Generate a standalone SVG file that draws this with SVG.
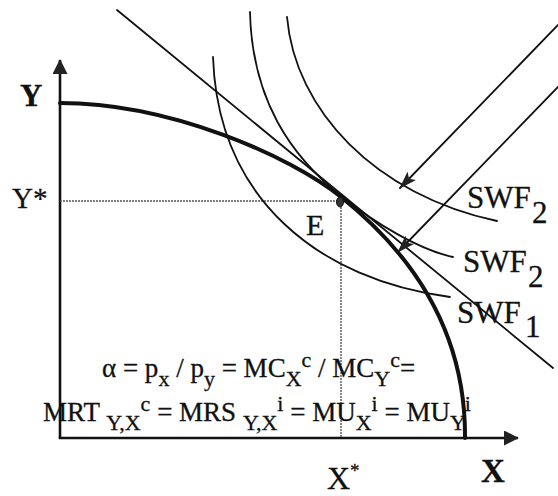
<svg xmlns="http://www.w3.org/2000/svg" width="558" height="496" viewBox="0 0 558 496">
<style>
.ln{fill:none;stroke:#111;stroke-width:1.8;stroke-linecap:round}
.ax{fill:none;stroke:#111;stroke-width:2.6}
.ppf{fill:none;stroke:#111;stroke-width:4;stroke-linecap:round}
.dot{fill:none;stroke:#555;stroke-width:1.4;stroke-dasharray:2 1}
.t{font-family:"Liberation Serif","Times New Roman",serif;fill:#111;stroke:#111;stroke-width:0.3}
.sw{font-size:31px}
.eq{font-size:27px}
.s{font-size:22px}
</style>
<defs>
<marker id="axh" markerUnits="userSpaceOnUse" viewBox="0 0 15 15" refX="14" refY="7.5" markerWidth="15" markerHeight="15" orient="auto">
<path d="M0,0 L15,7.5 L0,15 z" fill="#222"/>
</marker>
<marker id="arh" markerUnits="userSpaceOnUse" viewBox="0 0 18 12" refX="17" refY="6" markerWidth="18" markerHeight="12" orient="auto">
<path d="M0,0 L18,6 L0,12 L4,6 z" fill="#222"/>
</marker>
</defs>

<g id="axes">
<line class="ax" x1="60" y1="438" x2="60" y2="60" marker-end="url(#axh)"/>
<line class="ax" x1="58.7" y1="438" x2="518" y2="438" marker-end="url(#axh)"/>
<text class="t" x="20" y="106" font-size="31" font-weight="bold" font-family="Liberation Serif, serif">Y</text>
<text class="t" x="481" y="482" font-size="33" font-weight="bold" font-family="Liberation Serif, serif">X</text>
</g>

<g id="guides">
<line class="dot" x1="60" y1="201" x2="341" y2="201"/>
<line class="dot" x1="341" y1="201" x2="341" y2="438"/>
<text class="t" x="12" y="208" font-size="29" font-family="Liberation Serif, serif">Y*</text>
<text class="t" x="327" y="489" font-size="32" font-family="Liberation Serif, serif">X<tspan font-size="19" dy="-12">*</tspan></text>
</g>

<g id="ppf">
<path class="ppf" d="M60,103 C170,103 290,156 341,197 C401,245 466,320 465,438"/>
</g>

<g id="budget-line">
<line class="ln" x1="117" y1="10" x2="553" y2="368"/>
</g>

<g id="swf1">
<path class="ln" d="M213,57 C218,200 320,280 450,297"/>
<text class="t sw" x="457" y="323" font-family="Liberation Serif, serif">SWF</text>
<text class="t sw" x="525" y="337" font-family="Liberation Serif, serif">1</text>
</g>

<g id="swf2-tangent">
<path class="ln" d="M250,12 C252,100 291,156 341,196 C376,224 420,250 453,257"/>
<text class="t sw" x="463" y="272" font-family="Liberation Serif, serif">SWF</text>
<text class="t sw" x="528" y="287" font-family="Liberation Serif, serif">2</text>
</g>

<g id="swf2-outer">
<path class="ln" d="M287,17 C295,110 375,195 497,221"/>
<text class="t sw" x="467" y="208" font-family="Liberation Serif, serif">SWF</text>
<text class="t sw" x="532" y="223" font-family="Liberation Serif, serif">2</text>
</g>

<g id="E">
<ellipse cx="340" cy="202" rx="3.5" ry="5" fill="#333" stroke="#111" stroke-width="1"/>
<text class="t" x="306" y="235" font-size="30" font-family="Liberation Serif, serif">E</text>
</g>

<g id="connectors">
<line class="ln" x1="558" y1="25" x2="400" y2="188" marker-end="url(#arh)"/>
<line class="ln" x1="558" y1="87" x2="398" y2="252" marker-end="url(#arh)"/>
</g>

<g id="equation">
<text class="t eq" x="102" y="377" font-family="Liberation Serif, serif">α = p<tspan class="s" dy="9">x</tspan><tspan dy="-9"> / p</tspan><tspan class="s" dy="9">y</tspan><tspan dy="-9"> = MC</tspan><tspan class="s" dy="9">X</tspan><tspan class="s" dy="-19">c</tspan><tspan dy="10"> / MC</tspan><tspan class="s" dy="9">Y</tspan><tspan class="s" dy="-19">c</tspan><tspan dy="10">=</tspan></text>
<text class="t eq" x="43" y="421" font-family="Liberation Serif, serif">MRT <tspan class="s" dy="9">Y,X</tspan><tspan class="s" dy="-19">c</tspan><tspan dy="10"> = MRS </tspan><tspan class="s" dy="9">Y,X</tspan><tspan class="s" dy="-19">i</tspan><tspan dy="10"> = MU</tspan><tspan class="s" dy="9">X</tspan><tspan class="s" dy="-19">i</tspan><tspan dy="10"> = MU</tspan><tspan class="s" dy="9">Y</tspan><tspan class="s" dy="-19">i</tspan></text>
</g>
</svg>
